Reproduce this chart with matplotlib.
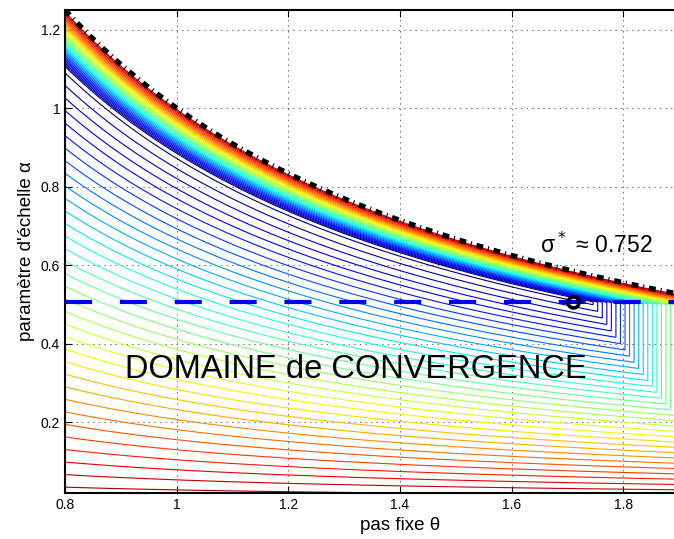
import numpy as np
import matplotlib
matplotlib.use('Agg')
import matplotlib.pyplot as plt

plt.rcParams['font.family'] = ['Liberation Sans', 'DejaVu Sans']
plt.rcParams['lines.scale_dashes'] = False

# axes
theta_lim = [0.8, 2.0]
alpha_lim = [0.02, 1.25]
x_ticks = [0.8, 1.0, 1.2, 1.4, 1.6, 1.8]
x_tick_labels = ['0.8', '1', '1.2', '1.4', '1.6', '1.8']
y_ticks = [0.2, 0.4, 0.6, 0.8, 1.0, 1.2]
y_tick_labels = ['0.2', '0.4', '0.6', '0.8', '1', '1.2']

# values
sigma_star = 0.752       # taux optimal
theta_star = 1.71        # position du cercle
alpha_star = 0.506       # borne (tirets bleus)
u_low_top = 0.872        # alpha*theta du contour bas le plus haut
u_band_low = 0.885       # alpha*theta ou commence la bande coloree
u_limit = 1.0            # frontiere de divergence alpha*theta = 1
theta_turn = 1.746       # debut des contours verticaux
turn_rate = 3.6          # niveau normalise par unite de theta (partie verticale)
n_levels = 34
top_level = 0.968        # niveau normalise du contour le plus bas

# champ du taux de convergence
th = np.linspace(theta_lim[0], theta_lim[1], 1000)
al = np.linspace(alpha_lim[0], alpha_lim[1], 1000)
T, A = np.meshgrid(th, al)
U = T * A
low = 1 - U / u_low_top
band = (U - u_band_low) / (u_limit - u_band_low)
vert = turn_rate * (T - theta_turn)
V = np.maximum(np.maximum(low, band), vert)
Z = sigma_star + (1 - sigma_star) * V
levels = sigma_star + (1 - sigma_star) * np.linspace(0, top_level, n_levels)

fig = plt.figure(figsize=(6.74, 5.39), dpi=100)
ax = fig.add_axes([65 / 674, 1 - 493 / 539, 670 / 674, 483 / 539])

ax.contour(T, A, Z, levels=levels, cmap='jet', vmin=sigma_star, vmax=1.0,
           linewidths=0.8)

# frontiere alpha = 1/theta
ax.plot(th, 1 / th, color='black', lw=3.8, linestyle=(0, (5, 3.5, 0.8, 3.5)),
        zorder=5)
# borne horizontale
ax.plot(theta_lim, [alpha_star, alpha_star], color=(0, 0, 0.95), lw=3,
        linestyle=(0, (19.5, 20)), zorder=5)
ax.plot([theta_star], [alpha_star], 'o', mfc='none', mec='black', ms=8, mew=2.5,
        zorder=6)

ax.text(1.65, 0.632, r'σ$^*$ ≈ ' + str(sigma_star), fontsize=16.5, va='baseline')
ax.text(0.907, 0.3125, 'DOMAINE de CONVERGENCE', fontsize=23.5, va='baseline')

ax.set_xlim(theta_lim)
ax.set_ylim(alpha_lim)
ax.set_xticks(x_ticks)
ax.set_xticklabels(x_tick_labels)
ax.set_yticks(y_ticks)
ax.set_yticklabels(y_tick_labels)
ax.tick_params(direction='in', length=5, top=True, right=True, labelsize=10)
ax.grid(True, linestyle=(0, (1, 3)), color='0.4', lw=0.7)
ax.set_axisbelow(True)
for s in ax.spines.values():
    s.set_linewidth(1.5)

ax.set_xlabel('pas fixe θ', fontsize=13.5)
ax.set_ylabel("paramètre d'échelle α", fontsize=13.5)

fig.savefig('out.png', dpi=100)
